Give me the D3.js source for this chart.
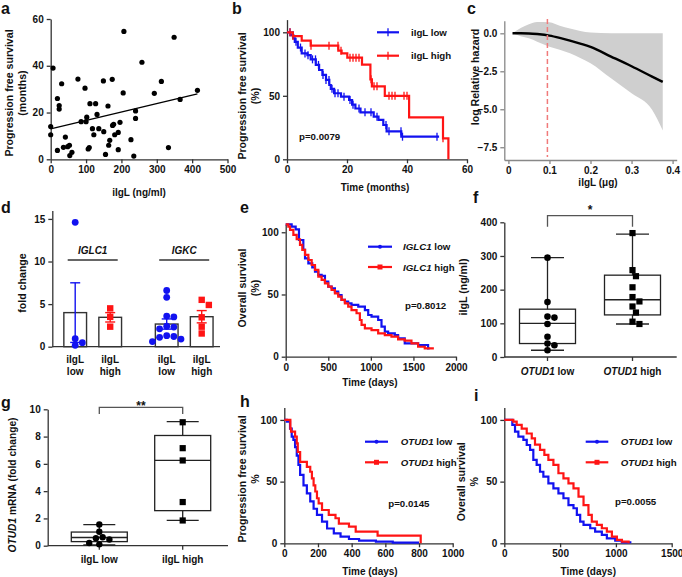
<!DOCTYPE html>
<html><head><meta charset="utf-8">
<script src="https://cdn.jsdelivr.net/npm/d3@7"></script>
<style>body{margin:0;background:#fff}svg{display:block}</style>
</head><body>
<svg id="fig" width="682" height="577"></svg>
<script>
// ---------------- DATA ----------------
// a: scatter
const aX = [6.6,0,0,19,19,24,24,31,36,41.5,48,53,54,60,77,86,97,100,102,106,109,111,118,122,127,131,136,149,150,155,162,164,167,174,175,178,181,191,191,196,205,207,227,235,240,240,258,293,313,333,349,366,415];
const aY = [39,14,10.5,3.8,26,23,21.5,32.3,5.1,9.5,5.4,6,1.6,3,34.3,16.1,30.4,16.1,18,4.4,5,23.8,13.1,10.5,23.8,19.2,13.1,33.5,11.8,2.1,22.8,6,8.1,34.2,14.5,15,10.5,11.5,4.1,15.8,28.4,54.7,8.4,1.4,20.7,17.5,41.5,28.2,33.3,5,52.2,25.6,29.5];
const aFitX = [0,415];
const aFitY = [13,28];
const aXTicks = [0,100,200,300,400,500];
const aYTicks = [0,20,40,60];

// b: Kaplan-Meier PFS (months)
const bLowT = [0,1.2,2.1,2.6,3.6,4.9,6.8,7.9,9.6,10.7,11.8,13,14.1,14.6,15.7,18,20.7,21.7,22.8,24.5,28.9,30.5,32.1,33.2,38.1,50.7];
const bLowS = [100,97.8,95.2,92.5,88,83.4,82,78.7,74.3,70.3,66.4,62.5,58.5,55.5,52,49.3,46.7,43,40,37,33.6,31,27,22,17.8,17.8];
const bLowCens = [1,2,3,4.5,6,7,8.5,9.5,10.5,12,13,14,15,16,17,19,21,22,24,26,28,30,33,34,38,38.5,50];
const bHighT = [0,1.9,4.9,7.9,17.1,18.2,20.1,25,27.8,28.3,32.6,40.7,52,53.8];
const bHighS = [100,97,93.4,89.5,85.5,83.4,80,74.5,63,57.5,50,33,16.5,0];
const bHighCens = [1,2,8,14,17,18,21,22,23,24,28,29,30,34,35,36,39,40,52];
const bXTicks = [0,20,40,60];
const bYTicks = [0,50,100];

// c: spline log relative hazard
const cX = [0.01,0.03,0.05,0.07,0.1,0.125,0.15,0.175,0.2,0.25,0.3,0.35,0.376];
const cFit = [0,0,-0.01,-0.05,-0.15,-0.3,-0.48,-0.68,-0.9,-1.53,-2.17,-2.85,-3.2];
const cUpper = [0,0.35,0.6,0.75,0.72,0.5,0.32,0.15,0.05,0,0,0,0];
const cLower = [0,-0.2,-0.33,-0.55,-0.88,-1.08,-1.32,-1.62,-1.97,-2.96,-3.95,-5.04,-6.4];
const cCut = 0.095;
const cXTicks = [0,0.1,0.2,0.3,0.4];
const cYTicks = [0,-2.5,-5,-7.5];

// d: bar chart with points
const dGenes = ["IGLC1","IGKC"];
const dGroups = ["low","high"];
const dMean = {IGLC1:{low:4.0,high:3.45}, IGKC:{low:2.66,high:3.52}};
const dSem  = {IGLC1:{low:3.5,high:0.55}, IGKC:{low:0.6,high:0.72}};
const dIGLC1Low = [14.6,0.94,0.47,0.16];
const dIGLC1High = [4.5,3.5,2.35];
const dIGKCLow = [6.6,5.8,3.6,3.5,2.4,2.3,2.1,1.3,1.2,1.1,0.9,0.6];
const dIGKCHigh = [5.5,4.9,3.45,2.35,1.55];
const dYTicks = [0,5,10,15];

// e: OS by IGLC1 (days)
const eLowT = [0,70,117,156,207,227,266,312,344,383,422,461,500,539,578,617,656,695,734,773,852,930,969,1008,1086,1125,1164,1203,1281,1320,1398,1555,1672,1690];
const eLowS = [106.4,104.6,102.4,93.8,85.8,79,75,71.8,68.4,65.7,64.9,60.3,56.3,55,52.3,49.6,45.6,44.2,42.9,41.6,40.2,37.5,33.5,32.2,29.5,24.1,20.1,18.8,17.4,14.7,10.7,9.4,6.7,6.7];
const eHighT = [0,31,51,90,129,168,195,227,266,305,344,383,422,461,500,539,578,617,656,695,734,773,832,871,891,930,1008,1086,1164,1242,1320,1398,1477,1555,1633,1740];
const eHighS = [106.4,104.6,101.9,97.9,94.4,89.8,85.8,81.8,77.7,73.7,69.7,64.3,61.7,59,56.3,53.6,50.9,48.3,45.6,42.9,40.2,37.5,34.9,29.5,25.5,22.8,21.4,18.8,17.4,16.1,13.9,12.9,10.7,8,6.7,6.7];
const eXTicks = [0,500,1000,1500,2000];
const eYTicks = [0,50,100];

// f: box plot iIgL by OTUD1
const fCats = ["low","high"];
const fLow = [295,163,120,117,98,60,40,35,20];
const fHigh = [368,258,240,207,178,165,150,132,105,98];
const fStats = {low:[20,40,100,142,295], high:[98,125,170,243,365]}; // min,q1,median,q3,max
const fYTicks = [0,100,200,300,400];

// g: box plot OTUD1 mRNA by iIgL
const gCats = ["iIgL low","iIgL high"];
const gLow = [1.55,1.02,0.62,0.55,0.45,0.2,0.1];
const gHigh = [9.05,7.15,6.25,3.2,1.85];
const gStats = {low:[0.05,0.3,0.6,1.0,1.55], high:[1.85,2.57,6.25,8.08,9.1]};
const gYTicks = [0,2,4,6,8,10];

// h: PFS by OTUD1 (days)
const hLowT = [0,15,34,44,54,64,74,84,94,114,134,154,174,194,224,254,294,334,384,444,544,644,800];
const hLowS = [100,98.6,93,86.5,83.8,78,71,63.5,55.4,47,40.5,34,28,23,17.5,12,8,5.4,3.5,2.2,1.4,0.5,0.5];
const hHighT = [0,36,40,64,74,80,94,134,154,164,174,184,194,204,224,264,304,324,384,424,554,810];
const hHighS = [100,93,90.5,86.5,81,74,66,62,58,52.7,47,42,36.5,32.4,27,23,20.3,16,13.5,9.5,6.2,0];
const hXTicks = [0,200,400,600,800,1000];
const hYTicks = [0,50,100];

// i: OS by OTUD1 (days)
const iLowT = [0,72,96,126,171,201,231,260,290,320,350,395,440,485,530,575,620,650,680,710,770,814,874,919,994,1054,1129];
const iLowS = [100,96,90.5,86.5,83.8,79.7,75.7,67.6,63.5,58,54,48.6,44.6,40.5,36.5,31,28.4,23,17.6,14.9,12.2,9.5,6.8,4,2.2,0.8,0];
const iHighT = [0,81,111,156,201,246,275,320,359,395,440,485,530,575,620,665,710,754,784,829,874,919,964,1009,1054,1114];
const iHighS = [100,98.6,96,93,89,85,80,75.7,71.6,67.6,63.5,56.8,52.7,48.6,44.6,37.8,31,23,17.6,14.9,12.2,9.5,5.4,2.7,1.4,0];
const iXTicks = [0,500,1000,1500];
const iYTicks = [0,50,100];

// ---------------- DRAWING ----------------
const FONT = "'Liberation Sans', Arial, Helvetica, sans-serif";
const BLUE = "#1212f0", RED = "#ff1414", AX = "#333";
const TICK_FS = 10, XT_FS = 10, YT_FS = 10.6, LEG_FS = 9.7;
const svg = d3.select("#fig");
svg.append("rect").attr("width",682).attr("height",577).attr("fill","#fff");

function txt(g, x, y, s, opt={}) {
  const t = g.append("text").attr("x",x).attr("y",y).text(s)
    .attr("font-family",FONT).attr("font-weight","bold")
    .attr("font-size",opt.size||LEG_FS).attr("fill",opt.fill||"#111")
    .attr("text-anchor",opt.anchor||"start");
  if (opt.rotate) t.attr("transform",`rotate(-90,${x},${y})`);
  return t;
}
function richTxt(g, x, y, parts, opt={}) {
  const t = g.append("text").attr("x",x).attr("y",y)
    .attr("font-family",FONT).attr("font-weight","bold")
    .attr("font-size",opt.size||LEG_FS).attr("fill","#111")
    .attr("text-anchor",opt.anchor||"start");
  if (opt.rotate) t.attr("transform",`rotate(-90,${x},${y})`);
  parts.forEach(p => t.append("tspan").text(p[0]).attr("font-style",p[1]?"italic":"normal"));
  return t;
}
function styleAxis(a, color, w) {
  a.select(".domain").attr("stroke",color).attr("stroke-width",w||1.3);
  a.selectAll(".tick line").attr("stroke",color).attr("stroke-width",w||1.3);
  a.selectAll(".tick text").attr("font-family",FONT).attr("font-weight","bold").attr("font-size",TICK_FS).attr("fill","#111");
}
function leftAxis(y, x0, ticks, fmt, color) {
  const a = svg.append("g").attr("transform",`translate(${x0},0)`)
    .call(d3.axisLeft(y).tickValues(ticks).tickSize(4).tickSizeOuter(0).tickFormat(fmt||d3.format("")));
  styleAxis(a, color||AX); return a;
}
function bottomAxis(x, y0, ticks, fmt, color) {
  const a = svg.append("g").attr("transform",`translate(0,${y0})`)
    .call(d3.axisBottom(x).tickValues(ticks).tickSize(4).tickSizeOuter(0).tickFormat(fmt||d3.format("")));
  styleAxis(a, color||AX); return a;
}
function letter(x, y, s) { txt(svg, x, y, s, {size:16}); }
function stepAt(T, S, t) { let v = S[0]; for (let i=0;i<T.length;i++) if (T[i] <= t) v = S[i]; return v; }
function km(x, y, T, S, color) {
  const line = d3.line().x(d=>x(d[0])).y(d=>y(d[1])).curve(d3.curveStepAfter);
  svg.append("path").datum(T.map((t,i)=>[t,S[i]])).attr("d",line)
    .attr("fill","none").attr("stroke",color).attr("stroke-width",2.2);
}
function censors(x, y, T, S, C, color) {
  svg.append("g").selectAll("line").data(C).join("line")
    .attr("x1",d=>x(d)).attr("x2",d=>x(d))
    .attr("y1",d=>y(stepAt(T,S,d))-4).attr("y2",d=>y(stepAt(T,S,d))+4)
    .attr("stroke",color).attr("stroke-width",1.3);
}
function legendKM(x0, x1, yy, color, shape, parts, tx) {
  svg.append("line").attr("x1",x0).attr("x2",x1).attr("y1",yy).attr("y2",yy).attr("stroke",color).attr("stroke-width",2.2);
  const cx = (x0+x1)/2;
  if (shape==="tick") svg.append("line").attr("x1",cx).attr("x2",cx).attr("y1",yy-4).attr("y2",yy+4).attr("stroke",color).attr("stroke-width",1.3);
  if (shape==="dot") svg.append("circle").attr("cx",cx).attr("cy",yy).attr("r",2).attr("fill",color);
  if (shape==="sq") svg.append("rect").attr("x",cx-2.5).attr("y",yy-2.5).attr("width",5).attr("height",5).attr("fill",color);
  richTxt(svg, tx, yy+3.5, parts);
}
function swarm(vals, y, cx, r) {
  const placed = [];
  return vals.map(v => {
    const py = y(v);
    const cands = [0];
    for (let i=1;i<12;i++) cands.push(i*r*1.05, -i*r*1.05);
    let off = 0;
    for (const o of cands) { if (placed.every(p => Math.hypot(p[0]-(cx+o), p[1]-py) >= 2*r*0.92)) { off = o; break; } }
    placed.push([cx+off, py]);
    return [cx+off, py];
  });
}
function drawPts(pts, shape, color, r) {
  const g = svg.append("g");
  if (shape==="circle") g.selectAll("circle").data(pts).join("circle").attr("cx",d=>d[0]).attr("cy",d=>d[1]).attr("r",r).attr("fill",color);
  else g.selectAll("rect").data(pts).join("rect").attr("x",d=>d[0]-r).attr("y",d=>d[1]-r).attr("width",2*r).attr("height",2*r).attr("fill",color);
}
function boxPlot(cx, y, st, bw, cw) {
  const g = svg.append("g").attr("stroke","#222").attr("stroke-width",1.3).attr("fill","none");
  g.append("line").attr("x1",cx).attr("x2",cx).attr("y1",y(st[0])).attr("y2",y(st[1]));
  g.append("line").attr("x1",cx).attr("x2",cx).attr("y1",y(st[3])).attr("y2",y(st[4]));
  g.append("line").attr("x1",cx-cw/2).attr("x2",cx+cw/2).attr("y1",y(st[0])).attr("y2",y(st[0]));
  g.append("line").attr("x1",cx-cw/2).attr("x2",cx+cw/2).attr("y1",y(st[4])).attr("y2",y(st[4]));
  g.append("rect").attr("x",cx-bw/2).attr("width",bw).attr("y",y(st[3])).attr("height",y(st[1])-y(st[3]));
  g.append("line").attr("x1",cx-bw/2).attr("x2",cx+bw/2).attr("y1",y(st[2])).attr("y2",y(st[2]));
}
function bracket(x0, x1, ytop, ybot, label, ly) {
  svg.append("path").attr("d",`M${x0},${ybot}V${ytop}H${x1}V${ybot}`).attr("fill","none").attr("stroke","#555").attr("stroke-width",1.3);
  txt(svg, (x0+x1)/2, ly, label, {anchor:"middle", size:12});
}

// ===== Panel a =====
{
  const x = d3.scaleLinear([0,500],[50.7,227.5]);
  const y = d3.scaleLinear([0,60],[159.3,19]);
  leftAxis(y, 50.7, aYTicks);
  bottomAxis(x, 159.3, aXTicks);
  svg.append("g").selectAll("circle").data(aX).join("circle")
    .attr("cx",(d)=>x(d)).attr("cy",(d,i)=>y(aY[i])).attr("r",2.6).attr("fill","#000");
  svg.append("line").attr("x1",x(aFitX[0])).attr("x2",x(aFitX[1])).attr("y1",y(aFitY[0])).attr("y2",y(aFitY[1]))
    .attr("stroke","#000").attr("stroke-width",1.4);
  txt(svg, 13, 93, "Progression free survival", {rotate:true, anchor:"middle", size:YT_FS});
  txt(svg, 26, 93, "(months)", {rotate:true, anchor:"middle", size:YT_FS});
  txt(svg, 139, 195.5, "iIgL (ng/ml)", {anchor:"middle", size:XT_FS});
  letter(1, 14, "a");
}

// ===== Panel b =====
{
  const x = d3.scaleLinear([0,60],[287,467]);
  const y = d3.scaleLinear([0,110],[159.3,19.6]);
  leftAxis(y, 287, bYTicks);
  bottomAxis(x, 159.3, bXTicks);
  km(x, y, bLowT, bLowS, BLUE);
  censors(x, y, bLowT, bLowS, bLowCens, BLUE);
  km(x, y, bHighT, bHighS, RED);
  censors(x, y, bHighT, bHighS, bHighCens, RED);
  legendKM(377, 399, 32.3, BLUE, "tick", [["iIgL low",false]], 411);
  legendKM(377, 399, 55.7, RED, "tick", [["iIgL high",false]], 411);
  txt(svg, 299, 139.5, "p=0.0079");
  txt(svg, 246, 96, "Progression free survival", {rotate:true, anchor:"middle", size:YT_FS});
  txt(svg, 259, 96, "(%)", {rotate:true, anchor:"middle", size:YT_FS});
  txt(svg, 375, 191, "Time (months)", {anchor:"middle", size:XT_FS});
  letter(232, 14, "b");
}

// ===== Panel c =====
{
  const x = d3.scaleLinear([-0.01,0.41],[504.3,676.7]);
  const y = d3.scaleLinear([0.83,-8.34],[20.7,160]);
  const band = d3.area().x((d,i)=>x(cX[i])).y0((d,i)=>y(cLower[i])).y1((d,i)=>y(cUpper[i])).curve(d3.curveMonotoneX);
  svg.append("path").datum(cX).attr("d",band).attr("fill","#cfcfcf");
  const ln = d3.line().x((d,i)=>x(cX[i])).y((d,i)=>y(cFit[i])).curve(d3.curveMonotoneX);
  svg.append("path").datum(cX).attr("d",ln).attr("fill","none").attr("stroke","#000").attr("stroke-width",2.4);
  svg.append("line").attr("x1",x(cCut)).attr("x2",x(cCut)).attr("y1",19).attr("y2",157)
    .attr("stroke","#f07a7a").attr("stroke-width",1.5).attr("stroke-dasharray","5,3");
  leftAxis(y, 504.3, cYTicks, d3.format(".1f"), "#888");
  bottomAxis(x, 160, cXTicks, d=>d===0?"0":d3.format(".1f")(d), "#888");
  txt(svg, 479, 77, "log Relative hazard", {rotate:true, anchor:"middle", size:YT_FS});
  txt(svg, 598, 185.5, "iIgL (μg)", {anchor:"middle", size:XT_FS});
  letter(467, 14, "c");
}

// ===== Panel d =====
{
  const y = d3.scaleLinear([0,16],[346.7,210.4]);
  const gx = d3.scaleBand(dGenes,[46.95,229.95]);
  const ix = d3.scalePoint(dGroups,[-17.5,17.5]);
  leftAxis(y, 52.3, dYTicks);
  svg.append("line").attr("x1",52.3).attr("x2",220).attr("y1",346.7).attr("y2",346.7).attr("stroke",AX).attr("stroke-width",1.3);
  const bw = 22.7;
  const ptsData = {IGLC1:{low:dIGLC1Low, high:dIGLC1High}, IGKC:{low:dIGKCLow, high:dIGKCHigh}};
  dGenes.forEach(gn => {
    const gc = gx(gn) + gx.bandwidth()/2;
    dGroups.forEach(gr => {
      const cx = gc + ix(gr);
      const col = gr==="low"?BLUE:RED;
      const m = dMean[gn][gr], s = dSem[gn][gr];
      svg.append("rect").attr("x",cx-bw/2).attr("width",bw).attr("y",y(m)).attr("height",y(0)-y(m))
        .attr("fill","#fff").attr("stroke","#333").attr("stroke-width",1.4);
      const eg = svg.append("g").attr("stroke",col).attr("stroke-width",1.4);
      eg.append("line").attr("x1",cx).attr("x2",cx).attr("y1",y(m+s)).attr("y2",y(m-s));
      eg.append("line").attr("x1",cx-5).attr("x2",cx+5).attr("y1",y(m+s)).attr("y2",y(m+s));
      eg.append("line").attr("x1",cx-5).attr("x2",cx+5).attr("y1",y(m-s)).attr("y2",y(m-s));
      const pts = swarm(ptsData[gn][gr], y, cx, 3.4);
      drawPts(pts, gr==="low"?"circle":"rect", col, gr==="low"?3.4:3.2);
      txt(svg, cx, 363, "iIgL", {anchor:"middle", size:XT_FS});
      txt(svg, cx, 374.5, gr, {anchor:"middle", size:XT_FS});
    });
    svg.append("line").attr("x1",gc-25).attr("x2",gc+25).attr("y1",260).attr("y2",260).attr("stroke","#333").attr("stroke-width",1.4);
    richTxt(svg, gc, 253.5, [[gn,true]], {anchor:"middle", size:XT_FS});
  });
  txt(svg, 26, 283, "fold change", {rotate:true, anchor:"middle", size:YT_FS});
  letter(1, 213, "d");
}

// ===== Panel e =====
{
  const x = d3.scaleLinear([0,2000],[285.7,456]);
  const y = d3.scaleLinear([0,106.4],[356.7,224.3]);
  leftAxis(y, 285.7, eYTicks);
  bottomAxis(x, 356.7, eXTicks);
  km(x, y, eLowT, eLowS, BLUE);
  km(x, y, eHighT, eHighS, RED);
  legendKM(368, 392, 246.7, BLUE, "dot", [["IGLC1",true],[" low",false]], 403);
  legendKM(368, 392, 267, RED, "sq", [["IGLC1",true],[" high",false]], 403);
  txt(svg, 405, 308.5, "p=0.8012");
  txt(svg, 246, 288, "Overall survival", {rotate:true, anchor:"middle", size:YT_FS});
  txt(svg, 259, 288, "(%)", {rotate:true, anchor:"middle", size:YT_FS});
  txt(svg, 370, 386, "Time (days)", {anchor:"middle", size:XT_FS});
  letter(240, 213, "e");
}

// ===== Panel f =====
{
  const y = d3.scaleLinear([0,400],[357,222.3]);
  const x = d3.scaleBand(fCats,[505,675]);
  leftAxis(y, 504.3, fYTicks);
  svg.append("line").attr("x1",504.3).attr("x2",676.7).attr("y1",357).attr("y2",357).attr("stroke",AX).attr("stroke-width",1.3);
  fCats.forEach(c => {
    const cx = x(c)+x.bandwidth()/2;
    svg.append("line").attr("x1",cx).attr("x2",cx).attr("y1",357).attr("y2",361).attr("stroke",AX).attr("stroke-width",1.3);
    boxPlot(cx, y, fStats[c], 56, 33);
    const pts = swarm(c==="low"?fLow:fHigh, y, cx, 3.3);
    drawPts(pts, c==="low"?"circle":"rect", "#000", c==="low"?3.3:3.1);
    richTxt(svg, cx, 375, [["OTUD1",true],[" "+c,false]], {anchor:"middle", size:XT_FS});
  });
  const x0 = x("low")+x.bandwidth()/2, x1 = x("high")+x.bandwidth()/2;
  bracket(x0, x1, 215.7, 226.7, "*", 214);
  txt(svg, 467, 287, "iIgL (ng/ml)", {rotate:true, anchor:"middle", size:YT_FS});
  letter(473, 203, "f");
}

// ===== Panel g =====
{
  const y = d3.scaleLinear([0,10],[545.7,409.3]);
  const x = d3.scaleBand(gCats,[57.6,224.4]);
  leftAxis(y, 47.7, gYTicks);
  svg.append("line").attr("x1",47.7).attr("x2",228).attr("y1",545.7).attr("y2",545.7).attr("stroke",AX).attr("stroke-width",1.3);
  gCats.forEach((c,i) => {
    const cx = x(c)+x.bandwidth()/2;
    svg.append("line").attr("x1",cx).attr("x2",cx).attr("y1",545.7).attr("y2",549.7).attr("stroke",AX).attr("stroke-width",1.3);
    boxPlot(cx, y, i===0?gStats.low:gStats.high, 56, 32);
    const pts = swarm(i===0?gLow:gHigh, y, cx, 3.2);
    drawPts(pts, i===0?"circle":"rect", "#000", i===0?3.2:3.1);
    txt(svg, cx, 563, c, {anchor:"middle", size:XT_FS});
  });
  bracket(x(gCats[0])+x.bandwidth()/2, x(gCats[1])+x.bandwidth()/2, 407.3, 414, "**", 410);
  richTxt(svg, 16, 485, [["OTUD1",true],[" mRNA (fold change)",false]], {rotate:true, anchor:"middle", size:10.2});
  letter(1, 408, "g");
}

// ===== Panel h =====
{
  const x = d3.scaleLinear([0,1000],[284.3,452.7]);
  const y = d3.scaleLinear([0,110],[543.3,407.6]);
  leftAxis(y, 284.3, hYTicks);
  bottomAxis(x, 543.3, hXTicks);
  km(x, y, hLowT, hLowS, BLUE);
  km(x, y, hHighT, hHighS, RED);
  legendKM(365, 388, 441.7, BLUE, "dot", [["OTUD1",true],[" low",false]], 400.7);
  legendKM(365, 388, 462.3, RED, "sq", [["OTUD1",true],[" high",false]], 400.7);
  txt(svg, 388.3, 506.8, "p=0.0145");
  txt(svg, 246, 479, "Progression free survival", {rotate:true, anchor:"middle", size:YT_FS});
  txt(svg, 259, 479, "%", {rotate:true, anchor:"middle", size:YT_FS});
  txt(svg, 370, 575, "Time (days)", {anchor:"middle", size:XT_FS});
  letter(240, 407, "h");
}

// ===== Panel i =====
{
  const x = d3.scaleLinear([0,1500],[504.3,671.7]);
  const y = d3.scaleLinear([0,110],[543.3,407.6]);
  leftAxis(y, 504.3, iYTicks);
  bottomAxis(x, 543.3, iXTicks);
  km(x, y, iLowT, iLowS, BLUE);
  km(x, y, iHighT, iHighS, RED);
  legendKM(585.7, 608.3, 441.7, BLUE, "dot", [["OTUD1",true],[" low",false]], 620.7);
  legendKM(585.7, 608.3, 462.3, RED, "sq", [["OTUD1",true],[" high",false]], 620.7);
  txt(svg, 615, 505, "p=0.0055");
  txt(svg, 465, 481.7, "Overall survival", {rotate:true, anchor:"middle", size:YT_FS});
  txt(svg, 478, 481.7, "%", {rotate:true, anchor:"middle", size:YT_FS});
  txt(svg, 588.3, 575, "Time (days)", {anchor:"middle", size:XT_FS});
  letter(474, 401, "i");
}
</script>
</body></html>
